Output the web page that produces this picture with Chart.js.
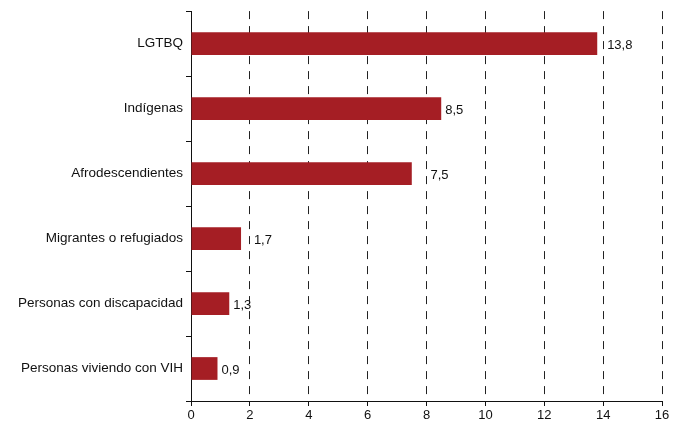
<!DOCTYPE html>
<html>
<head>
<meta charset="utf-8">
<script src="https://cdn.jsdelivr.net/npm/chart.js@4/dist/chart.umd.min.js"></script>
<style>
  html, body { margin: 0; padding: 0; background: #fff; }
  #wrap { width: 679px; height: 426px; }
</style>
</head>
<body>
<div id="wrap"><canvas id="grupoChart"></canvas></div>
<script>
const categories = [
    'LGTBQ',
    'Indígenas',
    'Afrodescendientes',
    'Migrantes o refugiados',
    'Personas con discapacidad',
    'Personas viviendo con VIH'
];
const values = [13.8, 8.5, 7.5, 1.7, 1.3, 0.9];
const xTicks = [0, 2, 4, 6, 8, 10, 12, 14, 16];

const fontFamily = '"Liberation Sans", Arial, Helvetica, sans-serif';

// value next to each bar (comma decimal), nudged past a grid line when it would sit on it
const valueLabels = {
    id: 'valueLabels',
    afterDatasetsDraw(chart) {
        const ctx = chart.ctx;
        const meta = chart.getDatasetMeta(0);
        const xScale = chart.scales.x;
        const lines = xTicks.map(v => xScale.getPixelForValue(v));
        ctx.save();
        ctx.font = '13px ' + fontFamily;
        ctx.fillStyle = '#111';
        ctx.textAlign = 'left';
        ctx.textBaseline = 'middle';
        meta.data.forEach((bar, i) => {
            const txt = values[i].toFixed(1).replace('.', ',');
            const w = ctx.measureText(txt).width;
            let x = bar.x + 4;
            lines.forEach(lx => {
                if (lx >= x - 1 && lx <= x + w - 3) {
                    x = lx + 4;
                }
            });
            ctx.fillText(txt, x, bar.y + 2);
        });
        ctx.restore();
    }
};

let ctx = document.getElementById('grupoChart').getContext('2d');
let myChart = new Chart(ctx, {
    type: 'bar',
    data: {
        labels: categories,
        datasets: [{
            data: values,
            backgroundColor: '#A51E24',
            borderWidth: 0,
            barPercentage: 0.35,
            categoryPercentage: 1
        }]
    },
    options: {
        indexAxis: 'y',
        responsive: true,
        maintainAspectRatio: false,
        animation: false,
        layout: {
            padding: { top: 2, right: 17, left: 0, bottom: 0 }
        },
        plugins: {
            legend: { display: false },
            tooltip: { enabled: false }
        },
        scales: {
            x: {
                min: 0,
                max: 16,
                afterBuildTicks: function (scale) {
                    scale.ticks = xTicks.map(v => ({ value: v }));
                },
                afterFit: function (scale) {
                    scale.height = 25;
                },
                ticks: {
                    color: '#111',
                    font: { family: fontFamily, size: 13 },
                    padding: 2,
                    maxRotation: 0
                },
                grid: {
                    color: '#222',
                    lineWidth: 1,
                    tickLength: 5,
                    tickColor: '#111',
                    tickBorderDash: []
                },
                border: {
                    display: true,
                    color: '#111',
                    width: 1,
                    dash: [8, 7]
                }
            },
            y: {
                afterFit: function (scale) {
                    scale.width = 191;
                },
                ticks: {
                    color: '#111',
                    font: { family: fontFamily, size: 13.5 },
                    padding: 3
                },
                grid: {
                    offset: true,
                    drawOnChartArea: false,
                    drawTicks: true,
                    tickLength: 5,
                    tickColor: '#111'
                },
                border: {
                    display: true,
                    color: '#111',
                    width: 1
                }
            }
        }
    },
    plugins: [valueLabels]
});
</script>
</body>
</html>
